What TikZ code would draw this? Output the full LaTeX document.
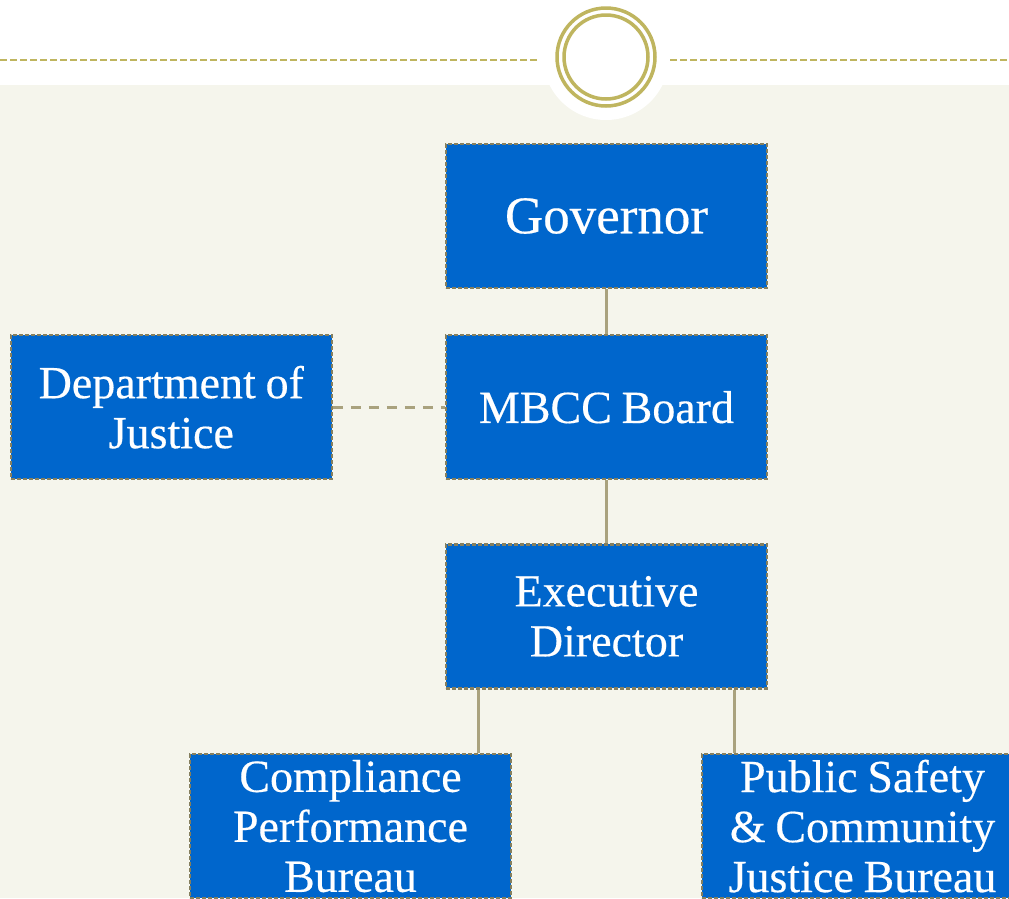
\documentclass[tikz,border=0pt]{standalone}
\usepackage{fontspec}
\setmainfont{Liberation Serif}[FakeBold=0.35,WordSpace=0.85]
\usetikzlibrary{positioning}
\definecolor{boxblue}{HTML}{0066CC}
\definecolor{boxedge}{HTML}{857F5E}
\definecolor{linkc}{HTML}{A9A27E}
\definecolor{ringc}{HTML}{BFB55F}
\definecolor{paper}{HTML}{F5F5EC}
\begin{document}
\begin{tikzpicture}[x=1pt,y=-1pt,
    box/.style={draw=boxedge,line width=2.2pt,dash pattern=on 4pt off 2pt,fill=boxblue,text=white,
      minimum width=321pt,minimum height=144pt,inner sep=0pt,align=center,
      font=\fontsize{46}{50}\selectfont},
    link/.style={draw=linkc,line width=2.5pt},
    ring/.style={draw=ringc,line width=3.5pt}]
    % fondo y cabecera
    \clip (0,0) rectangle (1009,898);
    \fill[paper] (0,85) rectangle (1009,898);
    \fill[white] (0,0) rectangle (1009,85);
    \fill[white] (606,57) circle[radius=63pt];
    \draw[ringc,line width=2pt,dash pattern=on 7pt off 3pt] (0,60) -- (540,60);
    \draw[ringc,line width=2pt,dash pattern=on 7pt off 3pt] (670,60) -- (1009,60);
    \draw[ring] (606,57) circle[radius=49pt];
    \draw[ring] (606,57) circle[radius=42pt];

    % cajas
    \node[box,font=\fontsize{53}{56}\selectfont] (gov) at (606.5,216) {Governor};
    \node[box,below=45pt of gov] (board) {MBCC Board};
    \node[box,left=112pt of board] (doj) {Department of\\Justice};
    \node[box,below=63pt of board] (ed) {Executive\\Director};
    \node[box,anchor=north] (comp) at (350.5,753) {Compliance\\Performance\\Bureau};
    \node[box,anchor=north] (psb) at (862.5,753) {Public Safety\\\& Community\\Justice Bureau};

    \draw[link] (gov) -- (board);
    \draw[link] (board) -- (ed);
    \draw[link,line width=3pt,dash pattern=on 10pt off 8pt] (doj) -- (board);
    \draw[link] ([xshift=-128pt]ed.south) -- ([xshift=-128pt]ed.south |- comp.north);
    \draw[link] ([xshift=128pt]ed.south) -- ([xshift=128pt]ed.south |- psb.north);
\end{tikzpicture}
\end{document}
